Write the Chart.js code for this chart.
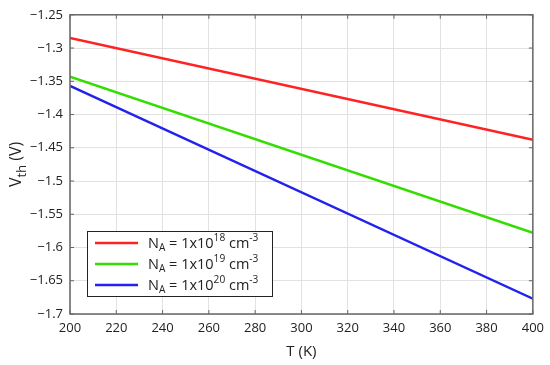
<!DOCTYPE html>
<html>
<head>
<meta charset="utf-8">
<script src="https://cdn.jsdelivr.net/npm/chart.js@4/dist/chart.umd.min.js"></script>
<style>
  html, body { margin: 0; padding: 0; background: #fff; }
  #wrap { width: 550px; height: 365px; }
</style>
</head>
<body>
<div id="wrap"><canvas id="c" width="550" height="365"></canvas></div>
<script>
// data
const temps = [200, 400];
const vthNa18 = [-1.285, -1.438];
const vthNa19 = [-1.343, -1.578];
const vthNa20 = [-1.357, -1.677];
const xTicks = [200, 220, 240, 260, 280, 300, 320, 340, 360, 380, 400];
const yTicks = [-1.25, -1.3, -1.35, -1.4, -1.45, -1.5, -1.55, -1.6, -1.65, -1.7];
const legendExp = ['18', '19', '20'];

const colors = ['#ff2222', '#33dd00', '#2222ee'];
const FONT = '"Open Sans", "Noto Sans", sans-serif';

function pts(ys){ return temps.map((t, i) => ({x: t, y: ys[i]})); }
function fmt(v){ return Number(v.toFixed(2)).toString().replace('-', '\u2212'); }

// draw text with sub/superscripts
function drawRich(ctx, parts, x, y, size, ratio){
  ratio = ratio || 0.7;
  let cx = x;
  parts.forEach(p => {
    const s = p.m ? size * ratio : size;
    ctx.font = s + 'px ' + FONT;
    const dy = p.m === 'sub' ? size * 0.3 : p.m === 'sup' ? -size * 0.38 : 0;
    ctx.fillText(p.t, cx, y + dy);
    cx += ctx.measureText(p.t).width;
  });
  return cx - x;
}

const framePlugin = {
  id: 'frame',
  afterDraw(chart){
    const {ctx, chartArea: a, scales} = chart;
    ctx.save();
    ctx.strokeStyle = '#666';
    ctx.lineWidth = 1.5;
    ctx.strokeRect(a.left, a.top, a.right - a.left, a.bottom - a.top);
    ctx.lineWidth = 1;
    ctx.beginPath();
    xTicks.forEach(t => {
      const px = scales.x.getPixelForValue(t);
      ctx.moveTo(px, a.bottom); ctx.lineTo(px, a.bottom - 4);
      ctx.moveTo(px, a.top); ctx.lineTo(px, a.top + 4);
    });
    yTicks.forEach(t => {
      const py = scales.y.getPixelForValue(t);
      ctx.moveTo(a.left, py); ctx.lineTo(a.left + 4, py);
      ctx.moveTo(a.right, py); ctx.lineTo(a.right - 4, py);
    });
    ctx.stroke();

    // y axis title: V_th (V)
    ctx.fillStyle = '#222';
    ctx.textBaseline = 'alphabetic';
    ctx.save();
    ctx.translate(21, (a.top + a.bottom) / 2);
    ctx.rotate(-Math.PI / 2);
    const parts = [{t: 'V'}, {t: 'th', m: 'sub'}, {t: ' (V)'}];
    let w = 0;
    parts.forEach(p => { ctx.font = (p.m ? 16 * 0.8 : 16) + 'px ' + FONT; w += ctx.measureText(p.t).width; });
    drawRich(ctx, parts, -w / 2, 0, 16, 0.8);
    ctx.restore();

    // legend box
    const lx = 87, ly = 231, lw = 185, lh = 65;
    ctx.fillStyle = '#fff';
    ctx.fillRect(lx, ly, lw, lh);
    ctx.strokeStyle = '#222';
    ctx.lineWidth = 1;
    ctx.strokeRect(lx + 0.5, ly + 0.5, lw, lh);
    legendExp.forEach((e, i) => {
      const y = ly + 12 + i * 21;
      ctx.strokeStyle = colors[i];
      ctx.lineWidth = 2.5;
      ctx.beginPath();
      ctx.moveTo(lx + 8, y); ctx.lineTo(lx + 51, y);
      ctx.stroke();
      ctx.fillStyle = '#222';
      ctx.textBaseline = 'middle';
      drawRich(ctx, [{t: 'N'}, {t: 'A', m: 'sub'}, {t: ' = 1x10'}, {t: e, m: 'sup'}, {t: ' cm'}, {t: '-3', m: 'sup'}], lx + 61, y + 1, 14.5);
    });
    ctx.restore();
  }
};

new Chart(document.getElementById('c'), {
  type: 'line',
  data: {
    datasets: [vthNa18, vthNa19, vthNa20].map((d, i) => ({
      data: pts(d), borderColor: colors[i], borderWidth: 2.5, pointRadius: 0, tension: 0, fill: false
    }))
  },
  options: {
    responsive: false,
    animation: false,
    layout: {padding: {top: 14, right: 17, left: 0, bottom: 0}},
    plugins: {legend: {display: false}, tooltip: {enabled: false}},
    scales: {
      x: {
        type: 'linear', min: 200, max: 400,
        afterBuildTicks: s => { s.ticks = xTicks.map(v => ({value: v})); },
        afterFit: s => { s.height = 51; },
        border: {display: false},
        grid: {color: '#e2e2e2', drawTicks: false},
        ticks: {padding: 6, color: '#222', font: {family: FONT, size: 13}, maxRotation: 0, callback: v => fmt(v)},
        title: {display: true, text: 'T (K)', color: '#222', font: {family: FONT, size: 15}, padding: {top: 2}}
      },
      y: {
        type: 'linear', min: -1.7, max: -1.25,
        afterBuildTicks: s => { s.ticks = yTicks.map(v => ({value: v})); },
        afterFit: s => { s.width = 70; },
        border: {display: false},
        grid: {color: '#e2e2e2', drawTicks: false},
        ticks: {padding: 7, color: '#222', font: {family: FONT, size: 13}, callback: v => fmt(v)}
      }
    }
  },
  plugins: [framePlugin]
});
</script>
</body>
</html>
